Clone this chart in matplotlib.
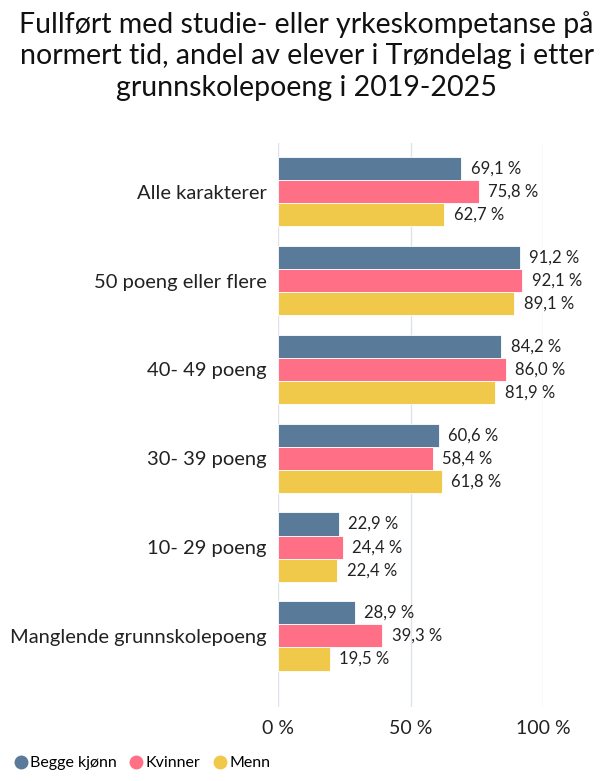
import matplotlib.pyplot as plt
import numpy as np
from matplotlib.lines import Line2D

plt.rcParams['font.family'] = ['Lato', 'DejaVu Sans']

categories = ['Alle karakterer', '50 poeng eller flere', '40- 49 poeng',
              '30- 39 poeng', '10- 29 poeng', 'Manglende grunnskolepoeng']
begge = [69.1, 91.2, 84.2, 60.6, 22.9, 28.9]
kvinner = [75.8, 92.1, 86.0, 58.4, 24.4, 39.3]
menn = [62.7, 89.1, 81.9, 61.8, 22.4, 19.5]
series_names = ['Begge kjønn', 'Kvinner', 'Menn']
colors = ['#5A7A99', '#FF7087', '#F0C84A']
xticks = [0, 50, 100]

W, H = 613, 781
fig = plt.figure(figsize=(W / 100, H / 100), dpi=100)
# plot area in pixels: x 278..543 (0..100 %), y 143..707
ax = fig.add_axes([278 / W, 1 - 707 / H, (543 - 278) / W, (707 - 143) / H])

bh = 0.26
y = np.arange(len(categories))
for i, (vals, col) in enumerate(zip([begge, kvinner, menn], colors)):
    pos = y + (i - 1) * bh
    ax.barh(pos, vals, height=bh, color=col, edgecolor='white', linewidth=0.6, zorder=3)
    for p, v in zip(pos, vals):
        ax.text(v + 3.6, p, f'{v:.1f} %'.replace('.', ','), va='center', ha='left',
                fontsize=12, color='#222222')

ax.set_xlim(0, 100)
ax.set_ylim(len(categories) - 1 + 0.8, -0.55)
ax.set_yticks(y)
ax.set_yticklabels(categories, fontsize=14.5, color='#222222')
ax.set_xticks(xticks)
ax.set_xticklabels([f'{t} %' for t in xticks], fontsize=14, color='#222222')
ax.tick_params(length=0, pad=8)
ax.tick_params(axis='x', pad=9)
ax.grid(axis='x', color='#DCE3EA', linewidth=1, zorder=0)
for s in ax.spines.values():
    s.set_visible(False)

fig.text(0.5, 1 - 56 / H, 'Fullført med studie- eller yrkeskompetanse på\n'
         'normert tid, andel av elever i Trøndelag i etter\n'
         'grunnskolepoeng i 2019-2025', ha='center', va='center',
         fontsize=20.5, linespacing=1.28, color='#111111')

handles = [Line2D([], [], marker='o', linestyle='', markersize=9, color=c) for c in colors]
fig.legend(handles, series_names, loc='center left', bbox_to_anchor=(0, 1 - 763 / H),
           ncol=3, frameon=False, fontsize=11.5, handletextpad=0.0, columnspacing=0.6,
           borderaxespad=0.3, handlelength=1.2)

fig.savefig('out.png', dpi=100)
